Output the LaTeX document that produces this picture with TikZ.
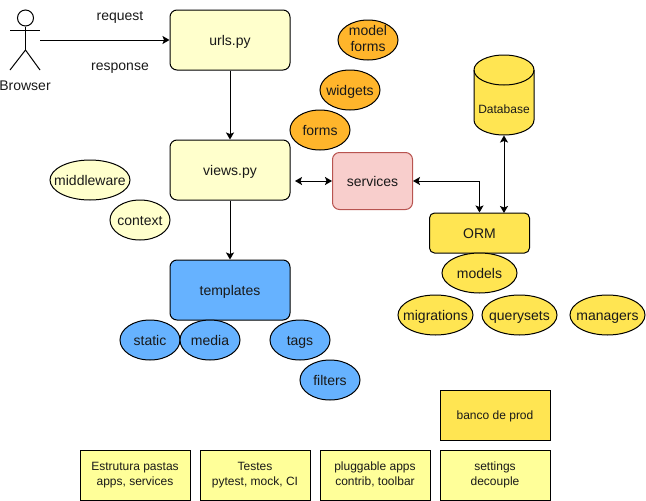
\documentclass[tikz,border=0pt]{standalone}
\usepackage{fontspec}
\setmainfont{Liberation Sans}
\usepackage{xcolor}
\usetikzlibrary{positioning,arrows.meta,shapes.geometric}
\definecolor{paleyellow}{HTML}{FFFFCC}
\definecolor{noteyellow}{HTML}{FFFF99}
\definecolor{dbyellow}{HTML}{FFE552}
\definecolor{formorange}{HTML}{FFB52B}
\definecolor{tplblue}{HTML}{66B2FF}
\definecolor{svcred}{HTML}{F8CECC}
\definecolor{svcborder}{HTML}{B85450}
\tikzset{
  every node/.style={on grid,inner sep=0pt,text=black!90,font=\fontsize{14}{16}\selectfont,align=center,
    execute at begin node={\rule{0pt}{.93em}},execute at end node={\rule[-.2em]{0pt}{.2em}}},
  every path/.style={line width=1pt},
  small/.style={font=\fontsize{12}{15}\selectfont},
  block/.style={draw,rounded corners=7pt,minimum width=120pt,minimum height=60pt,fill=paleyellow},
  blob/.style={draw,ellipse,inner sep=-8pt,minimum width=60pt,minimum height=40pt},
  wideblob/.style={blob,minimum width=75pt,fill=dbyellow},
  note/.style={draw,small,minimum width=110pt,minimum height=50pt,fill=noteyellow},
  dbend/.style={x radius=30pt,y radius=15pt},
}
\begin{document}
\begin{tikzpicture}[x=1pt,y=-1pt,>={Stealth[length=7pt,width=8pt,inset=1.5pt]}]
    \useasboundingbox (0,0) rectangle (646,501);
    % browser figure
    \node[draw,circle,minimum size=16pt] (head) at (25.5,18) {};
    \coordinate (hip) at (25.5,50);
    \coordinate (hand) at (40,40);
    \draw (head.south) -- (hip);
    \draw (10,30) -- (40,30);
    \draw (10,70) -- (hip) -- (40,70);
    \node (browser) at (25,85) {Browser};
    % request path
    \node[block] (urls) at (230,40) {urls.py};
    \node[block,below of=urls,node distance=130pt] (views) {views.py};
    \node[block,fill=tplblue,below of=views,node distance=120pt] (templates) {templates};
    \node (request) at (120,15) {request};
    \node (response) at (120,65) {response};
    \draw[->] (hand) -- (urls);
    \draw[->] (urls) -- (views);
    \draw[->] (views) -- (templates);
    % around views
    \node[blob,minimum width=80pt,fill=paleyellow] (middleware) at (90,180) {middleware};
    \node[blob,fill=paleyellow] (context) at (140,220) {context};
    \node[blob,fill=formorange] (forms) at (320,130) {forms};
    \node[blob,fill=formorange] (widgets) at (350,90) {widgets};
    \node[blob,fill=formorange] (modelforms) at (368,40) {model\\forms};
    \node[blob,fill=tplblue] (static) at (150,340) {static};
    \node[blob,fill=tplblue,right of=static,node distance=60pt] (media) {media};
    \node[blob,fill=tplblue] (tags) at (300,340) {tags};
    \node[blob,fill=tplblue] (filters) at (330,380) {filters};
    % data side
    \node[draw,rounded corners=7pt,minimum width=80pt,minimum height=57pt,fill=svcred,draw=svcborder] (services) at (372.5,181) {services};
    \node[draw,rounded corners=5pt,minimum width=100pt,minimum height=40pt,fill=dbyellow] (orm) at (479.5,233) {ORM};
    \draw[fill=dbyellow] (474,70) arc[start angle=180,end angle=0,dbend] -- (534,120)
      arc[start angle=0,end angle=-180,dbend] -- cycle;
    \draw (474,70) arc[start angle=180,end angle=360,dbend];
    \node[minimum width=60pt,minimum height=80pt] (db) at (504,95) {};
    \node[small] (dblabel) at (504,109) {Database};
    \node[wideblob] (models) at (479.5,273) {models};
    \node[wideblob] (migrations) at (435.5,315) {migrations};
    \node[wideblob,right of=migrations,node distance=84pt] (querysets) {querysets};
    \node[wideblob,right of=querysets,node distance=88pt] (managers) {managers};
    \coordinate (viewsgap) at (295,181);
    \coordinate (ormtop) at (504,213);
    \draw[<->] (viewsgap) -- (services);
    \draw[<->] (services) -| (orm);
    \draw[<->] (db.south) -- (ormtop);
    % notes
    \node[note] (estrutura) at (135,475) {Estrutura pastas\\apps, services};
    \node[note,right of=estrutura,node distance=120pt] (testes) {Testes\\pytest, mock, CI};
    \node[note,right of=testes,node distance=120pt] (pluggable) {pluggable apps\\contrib, toolbar};
    \node[note,right of=pluggable,node distance=120pt] (settings) {settings\\decouple};
    \node[note,fill=dbyellow,above of=settings,node distance=60pt] (banco) {banco de prod};
\end{tikzpicture}
\end{document}
